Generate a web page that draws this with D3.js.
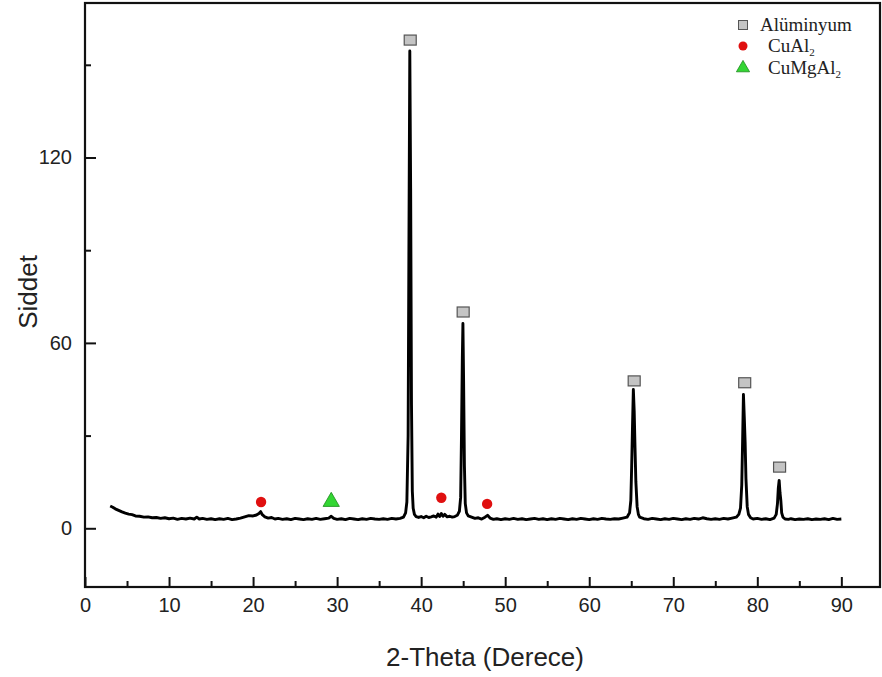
<!DOCTYPE html>
<html>
<head>
<meta charset="utf-8">
<script src="https://cdn.jsdelivr.net/npm/d3@7/dist/d3.min.js"></script>
<style>
  body { margin: 0; background: #fff; }
  svg { display: block; }
</style>
</head>
<body>
<svg id="chart" width="882" height="677"></svg>
<script>
// XRD trace, [2-theta, intensity]
var pattern = [
  [3.0,7.2],[3.3,6.8],[3.6,6.3],[4.0,5.8],[4.4,5.3],[4.8,4.9],[5.2,4.6],[5.6,4.4],[6.0,4.0],[6.5,3.9],
  [7.0,3.6],[7.5,3.7],[8.0,3.4],[8.5,3.5],[9.0,3.2],[9.5,3.4],[10.0,3.1],[10.5,3.3],[11.0,2.9],[11.5,3.2],
  [12.0,3.0],[12.5,3.3],[13.0,3.0],[13.3,3.6],[13.6,3.0],[14.0,3.2],[14.5,2.9],[15.0,3.1],[15.5,2.8],[16.0,3.1],
  [16.5,2.9],[17.0,3.2],[17.5,2.8],[18.0,3.0],[18.5,3.3],[19.0,3.7],[19.5,4.1],[20.0,4.0],[20.4,4.3],[20.7,4.8],
  [20.9,5.4],[21.1,4.4],[21.4,3.7],[21.8,3.3],[22.2,3.5],[22.6,3.0],[23.0,3.2],[23.5,2.9],[24.0,3.1],[24.5,2.8],
  [25.0,3.2],[25.5,3.0],[26.0,2.8],[26.5,3.1],[27.0,2.9],[27.5,3.2],[28.0,2.9],[28.5,3.1],[29.0,3.3],[29.3,3.9],
  [29.6,3.2],[30.0,2.9],[30.5,3.1],[31.0,2.8],[31.5,3.2],[32.0,3.0],[32.5,2.8],[33.0,3.1],[33.5,2.9],[34.0,3.2],
  [34.5,3.0],[35.0,2.9],[35.5,3.1],[36.0,2.9],[36.5,3.2],[37.0,3.0],[37.5,3.2],[37.9,3.6],[38.15,5.0],[38.3,8.5],
  [38.45,30],[38.55,95],[38.65,154.5],[38.75,110],[38.85,40],[38.95,12],[39.05,6.5],[39.2,4.5],[39.4,3.8],[39.7,3.5],
  [40.0,3.8],[40.3,3.4],[40.6,3.9],[40.9,3.5],[41.2,3.7],[41.5,4.0],[41.8,3.6],[42.0,4.6],[42.2,3.8],[42.4,4.8],
  [42.6,3.9],[42.8,4.5],[43.1,3.7],[43.4,3.9],[43.7,3.6],[44.0,3.8],[44.3,4.2],[44.55,5.5],[44.7,10],[44.8,30],
  [44.9,55],[44.97,66.3],[45.05,48],[45.15,20],[45.25,8],[45.4,5.0],[45.6,4.0],[46.0,3.6],[46.4,3.2],[46.8,3.4],
  [47.2,3.0],[47.6,3.6],[47.9,4.2],[48.2,3.3],[48.6,2.9],[49.0,3.1],[49.5,2.8],[50.0,3.1],[50.5,2.9],[51.0,3.2],
  [51.5,2.9],[52.0,3.1],[52.5,2.8],[53.0,3.0],[53.5,3.2],[54.0,2.9],[54.5,3.1],[55.0,2.8],[55.5,3.1],[56.0,2.9],
  [56.5,3.2],[57.0,3.0],[57.5,2.8],[58.0,3.1],[58.5,2.9],[59.0,3.2],[59.5,3.0],[60.0,2.8],[60.5,3.1],[61.0,2.9],
  [61.5,3.2],[62.0,3.0],[62.5,2.9],[63.0,3.1],[63.5,3.0],[64.0,3.3],[64.5,3.6],[64.8,5.0],[64.95,9],[65.05,20],
  [65.15,33],[65.25,44.9],[65.35,38],[65.45,26],[65.55,15],[65.7,7],[65.85,4.5],[66.0,3.6],[66.5,3.1],[67.0,2.9],
  [67.5,3.2],[68.0,3.0],[68.5,2.8],[69.0,3.1],[69.5,2.9],[70.0,3.2],[70.5,3.0],[71.0,2.8],[71.5,3.1],[72.0,2.9],
  [72.5,3.2],[73.0,3.0],[73.5,3.4],[74.0,3.1],[74.5,2.9],[75.0,3.1],[75.5,2.9],[76.0,3.2],[76.5,3.0],[77.0,3.3],
  [77.5,3.6],[77.8,4.5],[78.0,6.5],[78.15,14],[78.25,28],[78.35,43.3],[78.45,36],[78.55,28],[78.65,16],[78.8,7],
  [78.95,4.5],[79.2,3.4],[79.5,3.0],[80.0,3.2],[80.5,2.9],[81.0,3.1],[81.5,2.8],[82.0,3.3],[82.25,4.5],[82.4,8],
  [82.5,13],[82.6,15.5],[82.7,11.5],[82.8,9],[82.9,5],[83.05,3.6],[83.3,3.0],[83.7,2.9],[84.0,3.1],[84.5,2.8],
  [85.0,3.0],[85.5,2.9],[86.0,3.1],[86.5,2.8],[87.0,3.0],[87.5,2.9],[88.0,3.1],[88.5,2.8],[89.0,3.2],[89.5,2.9],
  [90.0,3.0]
];

// phase markers [2-theta, height]
var aluminyumMarks = [[38.7,158],[45.0,70],[65.35,47.7],[78.5,47.1],[82.65,19.8]];
var cual2Marks = [[20.95,8.5],[42.4,9.9],[47.85,7.9]];
var cumgal2Marks = [[29.3,8.6]];

var xMajor = [0,10,20,30,40,50,60,70,80,90];
var xMinor = [5,15,25,35,45,55,65,75,85];
var yMajor = [0,60,120];
var yMinor = [30,90,150];

var legendNames = ["Alüminyum", "CuAl", "CuMgAl"];
var legendSubs = ["", "2", "2"];

var plotLeft = 85, plotRight = 880, plotTop = 3, plotBottom = 587;

var svg = d3.select("#chart");

var x = d3.scaleLinear().domain([0, 94.6]).range([plotLeft, plotRight]);
var y = d3.scaleLinear().domain([-19, 170]).range([plotBottom, plotTop]);

// axes, ticks pointing inside
var xAxisGroup = svg.append("g").attr("transform", "translate(0," + plotBottom + ")");
xAxisGroup.call(d3.axisBottom(x).tickValues(xMajor).tickSizeInner(-10).tickSizeOuter(0).tickPadding(11));
var xMinorGroup = svg.append("g").attr("transform", "translate(0," + plotBottom + ")");
xMinorGroup.call(d3.axisBottom(x).tickValues(xMinor).tickSizeInner(-6).tickSizeOuter(0).tickFormat(""));

var yAxisGroup = svg.append("g").attr("transform", "translate(" + plotLeft + ",0)");
yAxisGroup.call(d3.axisLeft(y).tickValues(yMajor).tickSizeInner(-11).tickSizeOuter(0).tickPadding(13));
var yMinorGroup = svg.append("g").attr("transform", "translate(" + plotLeft + ",0)");
yMinorGroup.call(d3.axisLeft(y).tickValues(yMinor).tickSizeInner(-6).tickSizeOuter(0).tickFormat(""));

svg.selectAll(".domain").remove();
svg.selectAll(".tick line").attr("stroke", "#111").attr("stroke-width", 2);
svg.selectAll(".tick text")
  .attr("font-family", "Liberation Sans, Arial, sans-serif")
  .attr("font-size", "20px")
  .attr("fill", "#222");

// frame
svg.append("rect")
  .attr("x", plotLeft).attr("y", plotTop)
  .attr("width", plotRight - plotLeft).attr("height", plotBottom - plotTop)
  .attr("fill", "none")
  .attr("stroke", "#111")
  .attr("stroke-width", 2.2);

// trace
var line = d3.line()
  .x(function(d) { return x(d[0]); })
  .y(function(d) { return y(d[1]); });

svg.append("path")
  .datum(pattern)
  .attr("d", line)
  .attr("fill", "none")
  .attr("stroke", "#000")
  .attr("stroke-width", 2.9)
  .attr("stroke-linejoin", "round");

// markers
svg.selectAll("rect.al")
  .data(aluminyumMarks)
  .enter()
  .append("rect")
  .attr("class", "al")
  .attr("x", function(d) { return x(d[0]) - 6; })
  .attr("y", function(d) { return y(d[1]) - 5; })
  .attr("width", 12)
  .attr("height", 10)
  .attr("fill", "#c4c4c4")
  .attr("stroke", "#555")
  .attr("stroke-width", 1.2);

svg.selectAll("circle.cu")
  .data(cual2Marks)
  .enter()
  .append("circle")
  .attr("class", "cu")
  .attr("cx", function(d) { return x(d[0]); })
  .attr("cy", function(d) { return y(d[1]); })
  .attr("r", 5.2)
  .attr("fill", "#e01010");

svg.selectAll("path.cumg")
  .data(cumgal2Marks)
  .enter()
  .append("path")
  .attr("class", "cumg")
  .attr("d", d3.symbol().type(d3.symbolTriangle).size(115))
  .attr("transform", function(d) { return "translate(" + x(d[0]) + "," + y(d[1]) + ")"; })
  .attr("fill", "#33d633")
  .attr("stroke", "#1a8a1a")
  .attr("stroke-width", 0.8);

// legend
var legendY = [25, 46, 68];
var legend = svg.append("g");

legend.append("rect")
  .attr("x", 738.5).attr("y", legendY[0] - 4.5)
  .attr("width", 9).attr("height", 9)
  .attr("fill", "#c4c4c4").attr("stroke", "#555").attr("stroke-width", 1);
legend.append("circle")
  .attr("cx", 743).attr("cy", legendY[1])
  .attr("r", 4.5).attr("fill", "#e01010");
legend.append("path")
  .attr("d", d3.symbol().type(d3.symbolTriangle).size(75))
  .attr("transform", "translate(743," + legendY[2] + ")")
  .attr("fill", "#33d633").attr("stroke", "#1a8a1a").attr("stroke-width", 0.8);

legendNames.forEach(function(name, i) {
  var t = legend.append("text")
    .attr("x", i === 0 ? 760 : 768)
    .attr("y", legendY[i] + 6)
    .attr("font-family", "Liberation Serif, Times New Roman, serif")
    .attr("font-size", "19px")
    .attr("fill", "#222")
    .text(name);
  if (legendSubs[i]) {
    t.append("tspan")
      .attr("dy", 4)
      .attr("font-size", "11px")
      .text(legendSubs[i]);
  }
});

// axis titles
svg.append("text")
  .attr("x", 485)
  .attr("y", 666)
  .attr("text-anchor", "middle")
  .attr("font-family", "Liberation Sans, Arial, sans-serif")
  .attr("font-size", "26px")
  .attr("fill", "#222")
  .text("2-Theta (Derece)");

svg.append("text")
  .attr("transform", "translate(37,292) rotate(-90)")
  .attr("text-anchor", "middle")
  .attr("font-family", "Liberation Sans, Arial, sans-serif")
  .attr("font-size", "26px")
  .attr("fill", "#222")
  .text("Siddet");
</script>
</body>
</html>
